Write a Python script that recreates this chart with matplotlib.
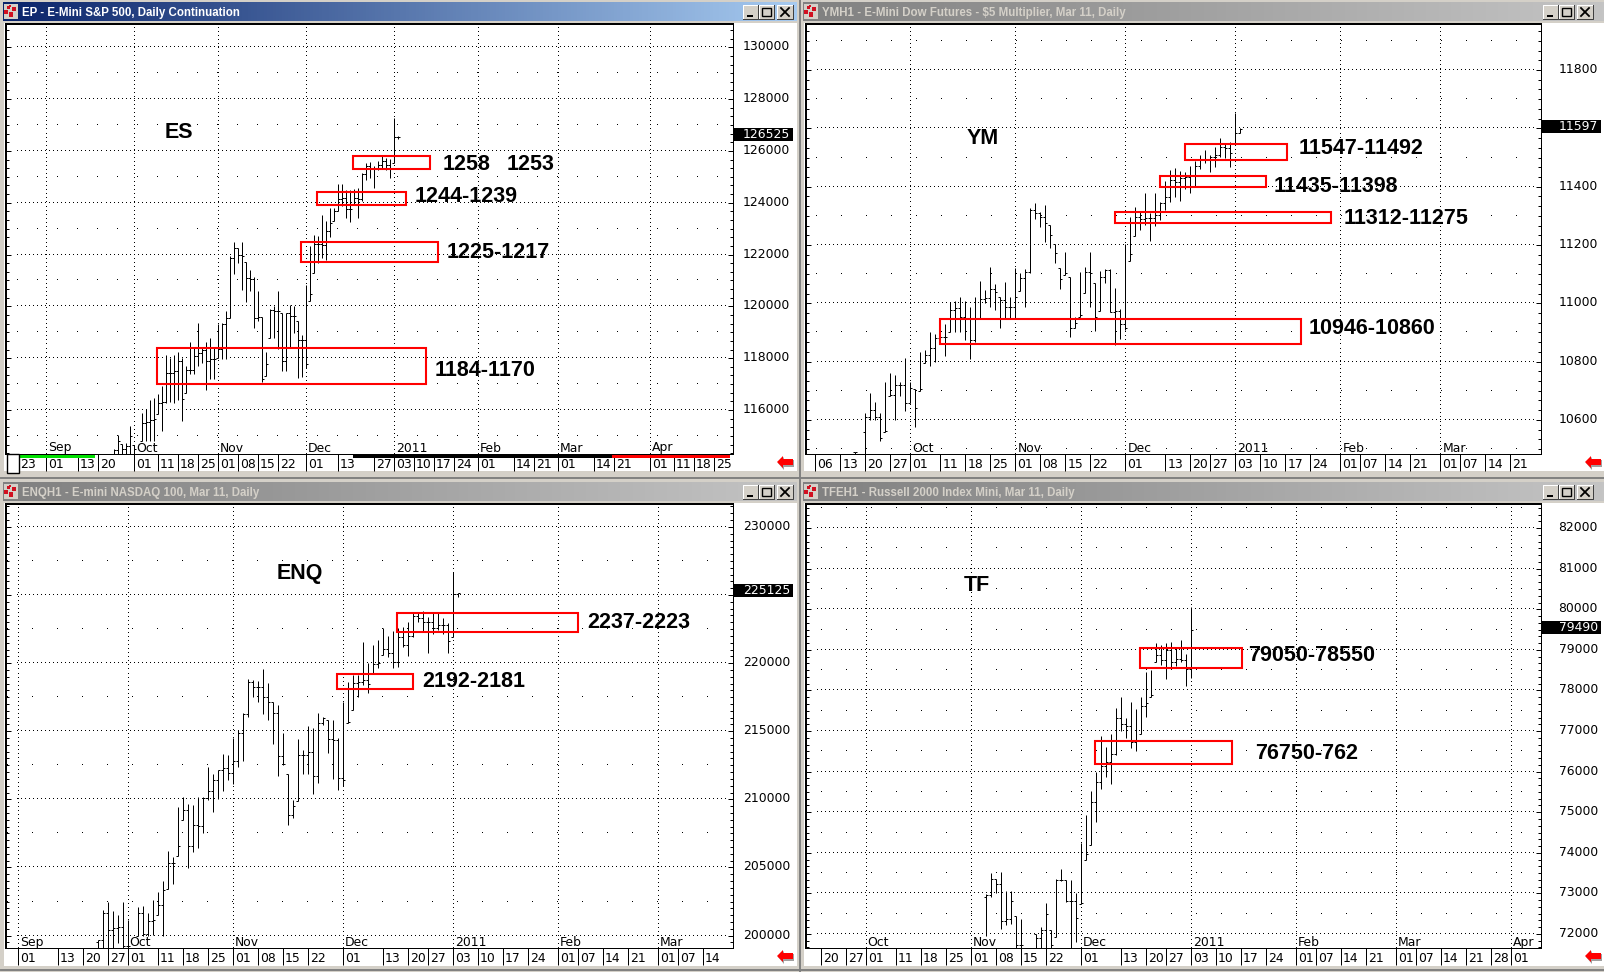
import numpy as np
import matplotlib
matplotlib.use('Agg')
import matplotlib.pyplot as plt
from matplotlib.colors import LinearSegmentedColormap
from matplotlib.patches import Rectangle, Polygon
from matplotlib.transforms import ScaledTranslation

nan = float('nan')
W, H = 1604, 972

# date axis positions are bar numbers, 0 = Oct 01
es_first = -5
es_high = [114500,115020,114670,114735,115400,114630,nan,115890,116020,116400,116450,116600,116920,118140,118010,118140,118250,118010,117690,118630,118400,119340,118400,118620,118790,118400,119300,119340,119810,121940,122480,122260,122500,121700,121400,121130,120610,119600,118230,119880,120010,120610,119750,119750,120050,120010,119430,118880,120840,122320,122770,122710,123540,123290,123800,123800,124740,124740,124480,124480,124530,124570,125130,125540,125560,125410,125600,125820,125730,125670,127270,126590]
es_low = [114000,114000,114000,114000,114000,114000,nan,114800,114800,114800,114800,115830,115180,116280,116300,116280,116400,115570,116660,117370,117370,117690,117820,116770,117180,117200,118010,117950,117980,119560,121230,121680,120620,120170,120590,119150,119430,117080,117310,118790,118790,118340,117500,117500,118400,118980,117240,117280,117630,120200,121290,121680,121870,121770,122680,123290,123670,123870,123420,123250,123930,123420,124060,124890,124950,124550,125280,125310,125280,124960,125540,126460]
es_open = [114300,114450,114800,114500,114600,115000,nan,114500,115500,115530,115630,115660,116250,116300,117410,117440,117500,117890,116430,117540,117560,118080,118210,118310,117890,117950,117950,118360,119300,119560,121870,122260,122000,121940,121100,121040,119560,119600,117180,117760,119840,119820,119820,117890,119750,119620,119620,118700,118720,117760,120460,122390,122390,122350,122900,123220,123670,124150,124190,123740,123740,124190,124150,125090,125410,125340,125340,125470,125600,125470,125310,126530]
es_close = [114450,114800,114500,114600,115000,114500,nan,115500,115530,115630,115660,116250,116300,117410,117440,117500,117890,116430,117540,117560,118080,118210,118310,117890,117950,117950,118360,119300,119560,121870,122260,122000,121940,121100,121040,119560,119600,117180,117760,119840,119820,119820,117890,119750,119620,119620,118700,118720,117760,120460,122390,122390,122350,122900,123220,123670,124150,124190,123740,123740,124190,124150,125090,125410,125340,125340,125470,125600,125470,125310,126530,126525]

ym_first = -11
ym_high = [10490,nan,10623,10691,10663,10625,10731,10760,10754,10731,10811,10731,10705,10832,10840,10900,10894,10897,10929,11004,11008,11020,11008,10986,11023,11075,11046,11123,11066,11020,11072,11023,11121,11103,11118,11326,11343,11312,11337,11269,11203,11120,11175,11090,10954,11106,11123,11177,11069,11111,11117,11117,11051,10979,11203,11297,11329,11318,11377,11309,11377,11349,11421,11457,11463,11455,11449,11472,11489,11509,11526,11509,11537,11566,11549,11554,11654,11600]
ym_low = [10440,nan,10440,10600,10598,10529,10560,10683,10598,10683,10631,10659,10574,10700,10794,10786,10800,10865,10820,10903,10903,10900,10874,10809,10866,10948,11000,10988,10977,10916,10948,10948,10948,11043,10986,11103,11288,11261,11211,11189,11137,11049,11097,10886,10914,10954,11036,10986,10906,10975,11069,10970,10857,10879,10908,11146,11232,11251,11269,11215,11265,11286,11320,11349,11366,11352,11391,11379,11402,11459,11480,11451,11469,11503,11499,11469,11549,11583]
ym_open = [10490,nan,10560,10611,10634,10609,10537,10562,10686,10720,10720,10657,10708,10640,10705,10823,10846,10880,10886,10886,10977,10983,10954,10948,10874,10948,11014,11017,11048,11040,11011,10988,10988,11023,11086,11109,11320,11309,11297,11274,11234,11171,11082,11105,10916,10931,10960,11106,11103,10952,11091,11115,10971,10975,10929,10914,11168,11297,11288,11291,11291,11303,11343,11366,11423,11417,11429,11434,11402,11471,11491,11494,11501,11509,11537,11534,11514,11585]
ym_close = [10490,nan,10611,10634,10609,10537,10562,10686,10720,10720,10657,10708,10640,10705,10823,10846,10880,10886,10886,10977,10983,10954,10948,10874,10948,11014,11017,11048,11040,11011,10988,10988,11023,11086,11109,11320,11309,11297,11274,11234,11171,11082,11105,10916,10931,10960,11106,11103,10952,11091,11115,10971,10975,10929,10914,11168,11297,11288,11291,11291,11303,11343,11366,11423,11417,11429,11434,11402,11471,11491,11494,11501,11509,11537,11534,11514,11585,11597]

enq_first = -6
enq_high = [199700,201900,202470,201780,201540,202470,201170,nan,202100,202150,201660,202640,203200,204030,206230,205740,209430,210170,209650,209600,210170,210170,212360,211850,212170,213320,213270,214490,215100,216320,218820,218770,218720,219550,218520,217180,216930,214860,211850,209920,214440,213590,215350,215220,216320,216080,215830,215830,214490,217130,218650,219130,219130,221530,219990,221330,221700,222560,221990,222360,222600,222680,223000,223730,223780,223850,223360,223730,223730,223290,222970,226710,225120]
enq_low = [199000,199000,199000,199000,199460,199000,199000,nan,199950,200000,200000,200070,201540,200000,203420,203810,205810,208500,204960,206110,206430,207530,209970,209070,210020,210650,211390,211140,212410,212780,216080,217500,217180,216250,215790,214050,211750,212540,208140,208630,209850,211850,211870,210380,211190,215470,213390,211510,210700,210950,215590,216570,217500,218400,217840,219260,219620,220600,220430,219620,219700,221210,220550,221900,223000,222310,220720,222140,222430,222120,220720,221900,224880]
enq_open = [199500,199700,201660,200440,200560,200610,199220,nan,199220,201660,200150,201050,201170,202270,203370,205330,205330,206550,209240,206550,208140,208010,210090,210580,211440,212170,212290,211920,212780,214860,216270,218650,218280,218280,217550,217180,216320,213150,212610,208870,209530,213270,213270,213510,211730,215590,215960,214420,214370,211560,211440,215660,218570,218650,218770,218470,219940,219990,221020,220720,220110,221900,221330,221990,223460,223290,223040,223040,222560,222800,222800,221630,225050]
enq_close = [199700,201660,200440,200560,200610,199220,199220,nan,201660,200150,201050,201170,202270,203370,205330,205330,206550,209240,206550,208140,208010,210090,210580,211440,212170,212290,211920,212780,214860,216270,218650,218280,218280,217550,217180,216320,213150,212610,208870,209530,213270,213270,213510,211730,215590,215960,214420,214370,211560,211440,215660,218570,218650,218770,218470,219940,219990,221020,220720,220110,221900,221330,221990,223460,223290,223040,223040,222560,222800,222800,221630,225050,225125]

tf_first = 24
tf_high = [72990,73490,73360,73520,73055,73055,72440,72360,nan,nan,72005,72180,72770,72095,73360,73590,73330,73340,73010,74240,74920,75515,75980,76870,76600,76930,77565,77850,77320,77710,77550,77835,78465,78510,79165,79120,79165,79190,79040,79245,78900,80065]
tf_low = [71950,72915,73010,72130,72210,72235,71600,71600,nan,nan,71600,71600,71600,71600,71930,73300,72785,71600,71800,72730,73830,74200,74750,75580,75880,75700,76400,76990,76830,76580,76500,76930,77335,77850,78690,78630,78285,78525,78605,78690,78120,78300]
tf_open = [72900,72970,73360,73220,72320,72360,72810,71720,nan,nan,72000,71905,72095,72480,71740,73330,73340,72810,72810,72400,72770,73960,75240,75740,76150,76230,76440,77320,77180,77130,76720,76745,77620,77690,77890,78875,78755,79000,78690,78780,78755,78525]
tf_close = [72970,73360,73220,72320,72360,72810,71720,71720,nan,nan,71905,72095,72480,71740,73330,73340,72810,72810,72400,72770,73960,75240,75740,76150,76230,76440,77320,77180,77130,76720,76745,77620,77690,77890,78875,78755,79000,78690,78780,78755,78525,79490]

es_prices = [116000,118000,120000,122000,124000,126000,128000,130000]
ym_prices = [10600,10800,11000,11200,11400,11600,11800]
enq_prices = [200000,205000,210000,215000,220000,225000,230000]
tf_prices = [72000,73000,74000,75000,76000,77000,78000,79000,80000,81000,82000]

es_dates = [(-29,'23'),(-22,'01'),(-14,'13'),(-9,'20'),(0,'01'),(6,'11'),(11,'18'),(16,'25'),(21,'01'),(26,'08'),(31,'15'),(36,'22'),(43,'01'),(51,'13'),(60,'27'),(65,'03'),(70,'10'),(75,'17'),(80,'24'),(86,'01'),(95,'14'),(100,'21'),(106,'01'),(115,'14'),(120,'21'),(129,'01'),(135,'11'),(140,'18'),(145,'25')]
ym_dates = [(-19,'06'),(-14,'13'),(-9,'20'),(-4,'27'),(0,'01'),(6,'11'),(11,'18'),(16,'25'),(21,'01'),(26,'08'),(31,'15'),(36,'22'),(43,'01'),(51,'13'),(56,'20'),(60,'27'),(65,'03'),(70,'10'),(75,'17'),(80,'24'),(86,'01'),(90,'07'),(95,'14'),(100,'21'),(106,'01'),(110,'07'),(115,'14'),(120,'21')]
enq_dates = [(-22,'01'),(-14,'13'),(-9,'20'),(-4,'27'),(0,'01'),(6,'11'),(11,'18'),(16,'25'),(21,'01'),(26,'08'),(31,'15'),(36,'22'),(43,'01'),(51,'13'),(56,'20'),(60,'27'),(65,'03'),(70,'10'),(75,'17'),(80,'24'),(86,'01'),(90,'07'),(95,'14'),(100,'21'),(106,'01'),(110,'07'),(115,'14')]
tf_dates = [(-9,'20'),(-4,'27'),(0,'01'),(6,'11'),(11,'18'),(16,'25'),(21,'01'),(26,'08'),(31,'15'),(36,'22'),(43,'01'),(51,'13'),(56,'20'),(60,'27'),(65,'03'),(70,'10'),(75,'17'),(80,'24'),(86,'01'),(90,'07'),(95,'14'),(100,'21'),(106,'01'),(110,'07'),(115,'14'),(120,'21'),(125,'28'),(129,'01')]

es_months = [(-22,'Sep'),(0,'Oct'),(21,'Nov'),(43,'Dec'),(65,'2011'),(86,'Feb'),(106,'Mar'),(129,'Apr')]
ym_months = [(0,'Oct'),(21,'Nov'),(43,'Dec'),(65,'2011'),(86,'Feb'),(106,'Mar')]
enq_months = [(-22,'Sep'),(0,'Oct'),(21,'Nov'),(43,'Dec'),(65,'2011'),(86,'Feb'),(106,'Mar')]
tf_months = [(0,'Oct'),(21,'Nov'),(43,'Dec'),(65,'2011'),(86,'Feb'),(106,'Mar'),(129,'Apr')]

# zones: first bar, last bar, top price, bottom price
es_zones = [(54.7,74.1,125800,125300),(45.7,68,124400,123900),(41.7,76.1,122500,121700),(5.7,73,118400,117000)]
ym_zones = [(54.9,75.3,11547,11492),(49.9,71.1,11435,11398),(40.9,84.1,11312,11275),(5.9,78.1,10946,10860)]
enq_zones = [(53.8,90,223700,222300),(41.8,57.1,219200,218100)]
tf_zones = [(54.9,75.2,79050,78550),(45.9,73.2,76750,76200)]

panels = [
    dict(title='EP - E-Mini S&P 500, Daily Continuation', box=(6,24,733,454), x0=134, ppb=4, ylim=(114300,130900),
         first=es_first, high=es_high, low=es_low, open=es_open, close=es_close, prices=es_prices, sub=6, dates=es_dates, months=es_months,
         zones=es_zones, last=126525, dot=(17,20), active=True),
    dict(title='YMH1 - E-Mini Dow Futures - $5 Multiplier, Mar 11, Daily', box=(806,24,1541,454), x0=910.3, ppb=5, ylim=(10483,11958),
         first=ym_first, high=ym_high, low=ym_low, open=ym_open, close=ym_close, prices=ym_prices, sub=6, dates=ym_dates, months=ym_months,
         zones=ym_zones, last=11597, dot=(815.7,25), active=False),
    dict(title='ENQH1 - E-mini NASDAQ 100, Mar 11, Daily', box=(6,504,733,948), x0=127.7, ppb=5, ylim=(199090,231680),
         first=enq_first, high=enq_high, low=enq_low, open=enq_open, close=enq_close, prices=enq_prices, sub=10, dates=enq_dates, months=enq_months,
         zones=enq_zones, last=225125, dot=(7.3,25), active=False),
    dict(title='TFEH1 - Russell 2000 Index Mini, Mar 11, Daily', box=(806,504,1541,948), x0=865.7, ppb=5, ylim=(71654,82595),
         first=tf_first, high=tf_high, low=tf_low, open=tf_open, close=tf_close, prices=tf_prices, sub=6, dates=tf_dates, months=tf_months,
         zones=tf_zones, last=79490, dot=(820.7,25), active=False),
]

# big hand written notes
notes = [
    ('ES',165,132),('1258',443,165),('1253',507,165),('1244-1239',415,196),('1225-1217',447,252),('1184-1170',435,370),
    ('YM',967,138),('11547-11492',1299,149),('11435-11398',1274,186),('11312-11275',1344,218),('10946-10860',1309,328),
    ('ENQ',277,573),('2237-2223',587,622),('2192-2181',422,681),
    ('TF',964,585),('79050-78550',1248,655),('76750-762',1255,753),
]

plt.rcParams['font.family'] = ['DejaVu Sans']
fig = plt.figure(figsize=(W/100, H/100), dpi=100, facecolor='#d4d0c8')

bg = fig.add_axes([0,0,1,1], zorder=-1)
fg = fig.add_axes([0,0,1,1], zorder=5)
fg.patch.set_alpha(0)

active_cm = LinearSegmentedColormap.from_list('a', ['#0a246a','#a6caf0'])
inactive_cm = LinearSegmentedColormap.from_list('i', ['#808080','#c4c4c4'])

for p in panels:
    left, top, right, bottom = p['box']
    # window frame
    bg.add_patch(Rectangle((left-2, top-1), right+64-(left-2), bottom+(19 if top > 100 else 18)-top, fc='white', ec='none'))
    bar_l, bar_t = left-3, top-22
    bar_r = right+64
    bg.imshow(np.linspace(0,1,256)[None,:], extent=(bar_l,bar_r,bar_t+19,bar_t), aspect='auto',
              cmap=active_cm if p['active'] else inactive_cm)
    bg.add_patch(Rectangle((left-2, bar_t+2), 14, 15, fc='#d4d0c8', ec='none'))
    for bx, by, bw, bh in [(0,8,4,4),(5,10,4,5),(8,5,4,4),(3,4,3,3),(5,3,2,2)]:
        bg.add_patch(Rectangle((left-2+bx, bar_t+by), bw, bh, fc='#d01020', ec='none'))
    bg.text(left+16, bar_t+11, p['title'], color='white' if p['active'] else '#d4d0c8', family='Liberation Sans',
            weight='bold', fontsize=8.3, va='center', ha='left')
    for i, (b0, b1) in enumerate([(743,758),(759,774),(777,793)]):
        off = left-6
        bg.add_patch(Rectangle((b0+off, bar_t+3), b1-b0, 14, fc='#d4d0c8', ec='none'))
        bg.plot([b0+off, b0+off, b1+off], [bar_t+17, bar_t+3, bar_t+3], color='white', lw=0.72)
        bg.plot([b0+off, b1+off, b1+off], [bar_t+17, bar_t+17, bar_t+3], color='#404040', lw=0.72)
        if i == 0:
            bg.add_patch(Rectangle((b0+off+4, bar_t+13), 6, 2, fc='black', ec='none'))
        elif i == 1:
            bg.add_patch(Rectangle((b0+off+3, bar_t+6), 9, 8, fc='none', ec='black', lw=1))
        else:
            bg.plot([b0+off+4, b0+off+12], [bar_t+6, bar_t+14], color='black', lw=1.3)
            bg.plot([b0+off+4, b0+off+12], [bar_t+14, bar_t+6], color='black', lw=1.3)

    ax = fig.add_axes([left/W, 1-bottom/H, (right-left)/W, (bottom-top)/H], zorder=1)
    ax.set_xlim((left-p['x0'])/p['ppb'], (right-p['x0'])/p['ppb'])
    ax.set_ylim(*p['ylim'])
    ax.patch.set_alpha(0)
    ppb = p['ppb']
    xlo, xhi = ax.get_xlim()
    ylo, yhi = ax.get_ylim()

    # dotted grid
    gx = np.linspace(xlo + 11/ppb, xhi - 8/ppb, int((right-left-19)/4))
    for price in p['prices']:
        ax.plot(gx, [price]*len(gx), ',', color='black', zorder=1)
    gy = np.linspace(ylo, yhi, int((bottom-top)/4))
    for idx, label in p['months']:
        ax.plot([idx]*len(gy), gy, ',', color='black', zorder=1)
    step = p['prices'][1] - p['prices'][0]
    mids = [pr + step/2 for pr in [p['prices'][0]-step] + p['prices']]
    mids = [m for m in mids if ylo < m < yhi]
    dots = (np.arange(p['dot'][0], right-5, p['dot'][1]) - p['x0']) / ppb
    for m in mids:
        ax.plot(dots, [m]*len(dots), ',', color='black', zorder=1)

    # price bars, open tick left and close tick right
    bars = np.arange(len(p['high'])) + p['first']
    ax.vlines(bars, p['low'], p['high'], color='black', lw=0.72, zorder=2)
    opens = np.clip(p['open'], p['low'], p['high'])
    ax.hlines(opens, bars - 2/ppb, bars, color='black', lw=0.72, zorder=2)
    ax.hlines(p['close'], bars, bars + 2/ppb, color='black', lw=0.72, zorder=2)

    # y axis on the right, ticks pointing in on both sides
    px_unit = (yhi-ylo) / (bottom-top)
    ax.yaxis.tick_right()
    ax.set_yticks(p['prices'])
    # the last price tag takes the place of a label right next to it
    ax.set_yticklabels(['' if abs(v-p['last']) < 10*px_unit else str(v) for v in p['prices']])
    minor = np.arange(p['prices'][0]-step, p['prices'][-1]+2*step, step/p['sub'])
    ax.set_yticks([m for m in minor if ylo < m < yhi], minor=True)
    ax.tick_params(axis='y', which='major', left=True, right=True, direction='in', length=3.6, width=0.72,
                   labelright=True, labelleft=False, pad=41, labelsize=8.9)
    ax.tick_params(axis='y', which='minor', left=True, right=True, direction='in', length=1.9, width=0.72)
    up = ScaledTranslation(0, 2/72*0.72, fig.dpi_scale_trans)
    for lab in ax.get_yticklabels():
        lab.set_ha('right')
        lab.set_transform(lab.get_transform() + up)

    # date axis
    ax.set_xticks([d[0] for d in p['dates']])
    ax.set_xticklabels([])
    ax.tick_params(axis='x', direction='out', length=12.2, width=0.72)
    for idx, label in p['dates']:
        ax.annotate(label, (idx, 0), xycoords=ax.get_xaxis_transform(), xytext=(2,-10), textcoords='offset pixels',
                    ha='left', va='center', fontsize=8.9)
    for idx, label in p['months']:
        ax.annotate(label, (idx, 0), xycoords=ax.get_xaxis_transform(), xytext=(2,6), textcoords='offset pixels',
                    ha='left', va='center', fontsize=8.9)

    ax.spines['top'].set_linewidth(1.44)
    ax.spines['left'].set_linewidth(1.44)
    ax.spines['right'].set_linewidth(0.72)
    ax.spines['bottom'].set_linewidth(0.72)

    # zones marked in red
    for z0, z1, ztop, zbot in p['zones']:
        ax.add_patch(Rectangle((z0, zbot), z1-z0, ztop-zbot, fc='none', ec='#ff0000', lw=1.5, zorder=3))

    # last price tag sits a little above the price
    tag_y = p['last'] + 2.5*px_unit
    tag_h = 13 * px_unit
    ax.add_patch(Rectangle((1, tag_y-tag_h/2), 60/(right-left), tag_h, transform=ax.get_yaxis_transform(),
                           fc='black', ec='none', clip_on=False, zorder=4))
    ax.text(1 + 57/(right-left), tag_y, str(p['last']), transform=ax.get_yaxis_transform(), color='white',
            ha='right', va='center', fontsize=8.9, zorder=5)

    # red arrow bottom right
    ay = bottom + 8
    ax_ = right + 44
    fg.add_patch(Polygon([(ax_+1,ay+1),(ax_+7,ay-5),(ax_+7,ay-2),(ax_+17,ay-2),(ax_+17,ay+5),(ax_+7,ay+5),(ax_+7,ay+8)], fc='#a0a0a0', ec='none'))
    fg.add_patch(Polygon([(ax_,ay),(ax_+6,ay-6),(ax_+6,ay-3),(ax_+16,ay-3),(ax_+16,ay+3),(ax_+6,ay+3),(ax_+6,ay+6)], fc='#ff0000', ec='none'))

    bg.plot([left-5, right+67], [bottom+(24 if top < 100 else 22)]*2, color='#808080', lw=1.4)
    bg.plot([right+67]*2, [top-24, bottom+24], color='#808080', lw=1.4)

# contract strip under the first chart
for x0, x1, col in [(19,95,'#00e000'),(353,612,'black'),(612,730,'#ff0000')]:
    fg.add_patch(Rectangle((x0,455), x1-x0, 2.6, fc=col, ec='none'))
fg.add_patch(Rectangle((6.5,453.5), 12, 19, fc='white', ec='black', lw=1))

for text, x, y in notes:
    fg.text(x, y, text, family='Liberation Sans', weight='bold', fontsize=15.5, ha='left', va='center', color='black')

for a in (bg, fg):
    a.set_xlim(0, W)
    a.set_ylim(H, 0)
    a.axis('off')

fig.savefig('out.png', dpi=100)
